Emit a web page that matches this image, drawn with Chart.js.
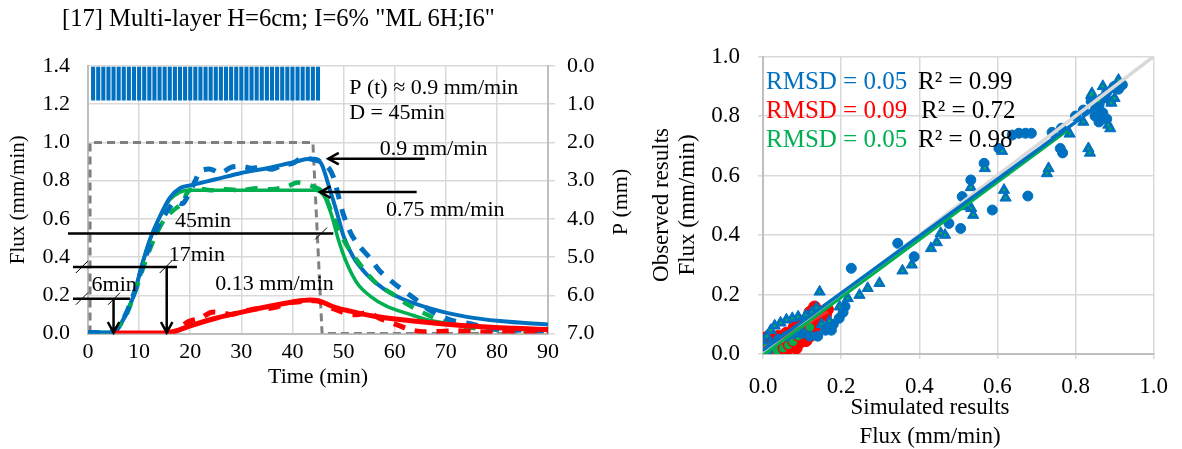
<!DOCTYPE html>
<html>
<head>
<meta charset="utf-8">
<script src="https://cdn.jsdelivr.net/npm/chart.js@4.4.1/dist/chart.umd.min.js"></script>
<style>
  html, body { margin: 0; padding: 0; background: #fff; }
  #wrap { position: relative; width: 1182px; height: 449px; overflow: hidden; }
  #left { position: absolute; left: 0; top: 0; }
  #right { position: absolute; left: 640px; top: 0; }
  #title { position: absolute; left: 62px; top: 5px; font: 24.6px/26px "Liberation Serif", serif; white-space: nowrap; color: #000; }
</style>
</head>
<body>
<div id="wrap">
  <canvas id="left" width="640" height="449"></canvas>
  <canvas id="right" width="542" height="449"></canvas>
  <div id="title">[17] Multi-layer H=6cm; I=6% "ML 6H;I6"</div>
</div>
<script>
// rainfall, one bar per minute (mm)
const rainTime = [1, 2, 3, 4, 5, 6, 7, 8, 9, 10, 11, 12, 13, 14, 15, 16, 17, 18, 19, 20, 21, 22, 23,
  24, 25, 26, 27, 28, 29, 30, 31, 32, 33, 34, 35, 36, 37, 38, 39, 40, 41, 42, 43, 44, 45];
const rainDepth = [0.9, 0.9, 0.9, 0.9, 0.9, 0.9, 0.9, 0.9, 0.9, 0.9, 0.9, 0.9, 0.9, 0.9, 0.9, 0.9,
  0.9, 0.9, 0.9, 0.9, 0.9, 0.9, 0.9, 0.9, 0.9, 0.9, 0.9, 0.9, 0.9, 0.9, 0.9, 0.9, 0.9, 0.9, 0.9,
  0.9, 0.9, 0.9, 0.9, 0.9, 0.9, 0.9, 0.9, 0.9, 0.9];

// rain input hydrograph [time, flux]
const rainInput = [[0.4, 0], [0.4, 1.0], [44, 1.0], [45.8, 0], [90, 0]];

// simulated fluxes [time (min), flux (mm/min)]
const totalSim = [[0, 0.005], [4, 0.005], [5.3, 0.012], [6.9, 0.073], [8.9, 0.196], [10.5, 0.353],
  [12.1, 0.49], [14.1, 0.615], [16, 0.71], [18, 0.76], [20, 0.775], [25, 0.807], [30, 0.84],
  [35, 0.865], [40, 0.895], [43.5, 0.915], [44.4, 0.915], [45.7, 0.886], [47.3, 0.755],
  [48.7, 0.633], [50, 0.51], [51.9, 0.40], [54.5, 0.31], [57.8, 0.235], [61, 0.187],
  [67.6, 0.126], [74.1, 0.087], [80.6, 0.065], [90, 0.047]];
const matrixSim = [[0, 0.005], [4, 0.005], [5.3, 0.012], [6.9, 0.073], [8.9, 0.196], [10.5, 0.353],
  [12.1, 0.49], [14.1, 0.612], [16, 0.70], [18, 0.74], [19.5, 0.75], [30, 0.75], [44.5, 0.75],
  [46.4, 0.71], [47.7, 0.615], [49, 0.49], [50.6, 0.37], [52.6, 0.266], [55.2, 0.196],
  [58.4, 0.143], [63, 0.10], [67.5, 0.065], [74, 0.04], [80.6, 0.026], [90, 0.017]];
const drainSim = [[5, 0.003], [15, 0.003], [17, 0.012], [20, 0.04], [25, 0.08], [31, 0.117],
  [36, 0.145], [40, 0.165], [43.4, 0.175], [45, 0.172], [48, 0.14], [51.3, 0.117], [56, 0.09],
  [61, 0.073], [70.8, 0.047], [80.6, 0.03], [90, 0.021]];

// observed fluxes [time (min), flux (mm/min)]
const totalObs = [[0, 0.005], [5, 0.01], [7, 0.08], [9, 0.21], [11, 0.38], [13, 0.52], [15, 0.62],
  [17, 0.69], [18.5, 0.68], [19.5, 0.72], [21, 0.80], [22, 0.85], [24, 0.86], [26, 0.84],
  [28, 0.87], [30, 0.875], [32, 0.865], [34, 0.87], [36, 0.86], [38, 0.88], [40, 0.89],
  [42, 0.92], [44, 0.91], [45.5, 0.90], [47, 0.87], [48, 0.82], [49, 0.72], [50, 0.62],
  [51.5, 0.52], [53, 0.46], [55, 0.40], [57, 0.33], [60, 0.26], [62, 0.22], [64, 0.18],
  [67, 0.12], [71, 0.07], [75, 0.05], [79, 0.025], [83, 0.02], [87, 0.015], [90, 0.015]];
const matrixObs = [[5, 0.01], [7, 0.07], [9, 0.2], [11, 0.36], [13, 0.5], [15, 0.6], [16.5, 0.64],
  [18.5, 0.685], [19.5, 0.74], [21, 0.76], [24, 0.75], [27, 0.755], [30, 0.75], [33, 0.76],
  [36, 0.755], [39, 0.77], [41, 0.79], [44, 0.77], [46, 0.74], [47.7, 0.63], [50, 0.49],
  [53, 0.37], [56.5, 0.26], [60, 0.2], [62, 0.16], [67, 0.09], [71, 0.05], [75, 0.03],
  [80, 0.02], [85, 0.02], [90, 0.02]];
const drainObs = [[15, 0.005], [17, 0.01], [18.5, 0.04], [19.5, 0.06], [20.5, 0.07], [22, 0.08],
  [24, 0.11], [26, 0.11], [28, 0.10], [31, 0.12], [33, 0.13], [35, 0.13], [37, 0.14],
  [39, 0.16], [41, 0.165], [43, 0.17], [45, 0.17], [47, 0.14], [49, 0.12], [51, 0.10],
  [53, 0.10], [55, 0.11], [57, 0.08], [59, 0.06], [61, 0.04], [63, 0.02], [65, 0.01],
  [68, 0.01], [72, 0.015], [76, 0.01], [80, 0.005], [84, 0.01], [88, 0.01], [90, 0.01]];

// scatter: [simulated, observed]
const blueDots = [[0.0, 0.0], [0.01, 0.01], [0.02, 0.03], [0.04, 0.05], [0.06, 0.06], [0.08, 0.07],
  [0.10, 0.07], [0.12, 0.06], [0.14, 0.06], [0.16, 0.08], [0.175, 0.08], [0.18, 0.10],
  [0.195, 0.12], [0.205, 0.14], [0.21, 0.16], [0.226, 0.288], [0.345, 0.372], [0.387, 0.327],
  [0.476, 0.439], [0.506, 0.422], [0.51, 0.529], [0.532, 0.585], [0.566, 0.641], [0.587, 0.484],
  [0.604, 0.691], [0.638, 0.736], [0.655, 0.742], [0.672, 0.742], [0.678, 0.531], [0.687, 0.742],
  [0.74, 0.745], [0.761, 0.691], [0.764, 0.759], [0.767, 0.676], [0.80, 0.80], [0.82, 0.82],
  [0.84, 0.85], [0.85, 0.80], [0.86, 0.83], [0.87, 0.86], [0.88, 0.88], [0.89, 0.85],
  [0.90, 0.90], [0.91, 0.89], [0.92, 0.905], [0.87, 0.81], [0.88, 0.79], [0.86, 0.78]];
const blueTri = [[0.005, 0.03], [0.01, 0.06], [0.02, 0.08], [0.03, 0.095], [0.045, 0.105],
  [0.06, 0.115], [0.075, 0.12], [0.09, 0.125], [0.11, 0.13], [0.125, 0.14], [0.137, 0.155],
  [0.145, 0.209], [0.15, 0.10], [0.17, 0.11], [0.196, 0.159], [0.217, 0.187], [0.247, 0.198],
  [0.268, 0.221], [0.298, 0.238], [0.357, 0.28], [0.381, 0.30], [0.43, 0.355], [0.445, 0.375],
  [0.455, 0.406], [0.466, 0.40], [0.515, 0.496], [0.532, 0.56], [0.533, 0.49], [0.538, 0.467],
  [0.568, 0.624], [0.612, 0.682], [0.617, 0.551], [0.621, 0.525], [0.727, 0.607], [0.731, 0.624],
  [0.785, 0.74], [0.82, 0.78], [0.833, 0.691], [0.837, 0.676], [0.84, 0.87], [0.842, 0.876],
  [0.86, 0.85], [0.884, 0.77], [0.889, 0.758], [0.89, 0.89], [0.892, 0.844], [0.91, 0.921],
  [0.90, 0.86], [0.87, 0.90], [0.85, 0.83]];
const redDots = [[0.005, 0.053], [0.008, 0.035], [0.012, 0.02], [0.015, 0.06], [0.025, 0.02],
  [0.04, 0.01], [0.059, 0.01], [0.07, 0.03], [0.085, 0.02], [0.095, 0.04], [0.11, 0.045],
  [0.125, 0.07], [0.133, 0.09], [0.14, 0.12], [0.145, 0.14], [0.132, 0.158], [0.12, 0.14],
  [0.10, 0.11], [0.08, 0.09], [0.06, 0.07], [0.04, 0.06], [0.02, 0.04], [0.16, 0.13],
  [0.165, 0.15], [0.12, 0.06], [0.105, 0.05]];
const greenDots = [[0.015, 0.005], [0.035, 0.01], [0.052, 0.019], [0.065, 0.03], [0.077, 0.041],
  [0.09, 0.06], [0.10, 0.075], [0.11, 0.08], [0.12, 0.09]];

// regression lines and 1:1 line
const blueTrend = [[0, 0.013], [0.88, 0.856]];
const greenTrend = [[0, -0.004], [0.78, 0.752]];
const redTrend = [[0, 0.019], [0.166, 0.142]];
const oneToOne = [[0, 0], [1, 1]];

const BLUE = '#0070C0', RED = '#FF0000', GREEN = '#00B050';
const GRID = '#D9D9D9', AXIS = '#BFBFBF';
const SERIF = '"Liberation Serif", "Times New Roman", serif';

Chart.defaults.font.family = SERIF;
Chart.defaults.color = '#000';

const xy = pairs => pairs.map(p => ({ x: p[0], y: p[1] }));

function arrow(ctx, x1, y1, x2, y2) {
  const a = Math.atan2(y2 - y1, x2 - x1), h = 12;
  ctx.beginPath();
  ctx.moveTo(x1, y1);
  ctx.lineTo(x2, y2);
  ctx.moveTo(x2 - h * Math.cos(a - 0.5), y2 - h * Math.sin(a - 0.5));
  ctx.lineTo(x2, y2);
  ctx.lineTo(x2 - h * Math.cos(a + 0.5), y2 - h * Math.sin(a + 0.5));
  ctx.stroke();
}

function slash(ctx, x, y) {
  ctx.save();
  ctx.lineWidth = 1;
  ctx.beginPath();
  ctx.moveTo(x - 6, y + 6);
  ctx.lineTo(x + 6, y - 6);
  ctx.stroke();
  ctx.restore();
}

function vText(ctx, text, x, y) {
  ctx.save();
  ctx.translate(x, y);
  ctx.rotate(-Math.PI / 2);
  ctx.textAlign = 'center';
  ctx.fillText(text, 0, 0);
  ctx.restore();
}

// labels, dimension lines and arrows on the hydrograph
const leftNotes = {
  id: 'leftNotes',
  afterDraw(chart) {
    const ctx = chart.ctx;
    const X = v => chart.scales.x.getPixelForValue(v);
    const Y = v => chart.scales.y.getPixelForValue(v);
    ctx.save();
    ctx.fillStyle = '#000';
    ctx.strokeStyle = '#000';
    ctx.font = '22px ' + SERIF;
    ctx.textBaseline = 'middle';

    ctx.fillText('P (t) ≈ 0.9 mm/min', X(51.1), Y(1.282));
    ctx.fillText('D = 45min', X(51.1), Y(1.151));
    ctx.fillText('0.9 mm/min', X(57.1), Y(0.963));
    ctx.fillText('0.75 mm/min', X(58.3), Y(0.645));
    ctx.fillText('45min', X(17), Y(0.59));
    ctx.fillText('17min', X(15.8), Y(0.41));
    ctx.fillText('6min', X(0.7), Y(0.253));
    ctx.fillText('0.13 mm/min', X(24.9), Y(0.258));

    ctx.lineWidth = 2.5;
    arrow(ctx, X(65.9), Y(0.915), X(47.0), Y(0.915));
    arrow(ctx, X(64.3), Y(0.74), X(45.4), Y(0.74));

    // 45 min dimension line
    ctx.beginPath();
    ctx.moveTo(68, Y(0.523));
    ctx.lineTo(X(48), Y(0.523));
    ctx.stroke();
    slash(ctx, X(45.6), Y(0.523));

    // 17 min dimension line and arrow
    ctx.beginPath();
    ctx.moveTo(73, Y(0.348));
    ctx.lineTo(X(17.4), Y(0.348));
    ctx.stroke();
    slash(ctx, X(-1.2), Y(0.348));
    slash(ctx, X(15.2), Y(0.348));
    arrow(ctx, X(15.4), Y(0.348), X(15.4), Y(0.005));

    // 6 min dimension line and arrow
    ctx.beginPath();
    ctx.moveTo(73, Y(0.182));
    ctx.lineTo(X(8.2), Y(0.182));
    ctx.stroke();
    slash(ctx, X(-1.2), Y(0.182));
    slash(ctx, X(5.1), Y(0.182));
    arrow(ctx, X(5.0), Y(0.182), X(5.0), Y(0.005));

    vText(ctx, 'P (mm)', 621, 202);
    ctx.restore();
  }
};

new Chart(document.getElementById('left'), {
  type: 'line',
  data: {
    datasets: [
      { data: xy(drainSim), borderColor: RED, borderWidth: 5, pointRadius: 0, cubicInterpolationMode: 'monotone' },
      { data: xy(drainObs), borderColor: RED, borderWidth: 5, borderDash: [12, 10], pointRadius: 0, tension: 0.3 },
      { data: xy(totalObs), borderColor: BLUE, borderWidth: 5, borderDash: [12, 10], pointRadius: 0, tension: 0.3 },
      { data: xy(matrixObs), borderColor: GREEN, borderWidth: 4.5, borderDash: [12, 10], pointRadius: 0, tension: 0.3 },
      { data: xy(totalSim), borderColor: BLUE, borderWidth: 4, pointRadius: 0, cubicInterpolationMode: 'monotone' },
      { data: xy(matrixSim), borderColor: GREEN, borderWidth: 3.5, pointRadius: 0, cubicInterpolationMode: 'monotone' },
      { data: xy(rainInput), borderColor: '#808080', borderWidth: 3, borderDash: [8, 5], pointRadius: 0, tension: 0 },
      {
        type: 'bar', yAxisID: 'y2',
        data: rainTime.map((t, i) => ({ x: t, y: rainDepth[i] })),
        backgroundColor: BLUE, borderWidth: 0,
        barPercentage: 0.8, categoryPercentage: 1
      }
    ]
  },
  options: {
    responsive: false,
    animation: false,
    layout: { padding: { left: 0, right: 0, top: 66, bottom: 55.5 } },
    plugins: { legend: { display: false }, tooltip: { enabled: false } },
    scales: {
      x: {
        type: 'linear', min: 0, max: 90, offset: false,
        ticks: { stepSize: 10, padding: 6, font: { size: 22 } },
        grid: { color: GRID, lineWidth: 1.5, drawTicks: false, offset: false },
        border: { color: AXIS, width: 2 },
        title: { display: true, text: 'Time (min)', font: { size: 22 }, padding: { top: 0, bottom: 3 } },
        afterFit: s => { s.height = 60; }
      },
      y: {
        min: 0, max: 1.4,
        ticks: { stepSize: 0.2, padding: 18, font: { size: 22 }, callback: v => v.toFixed(1) },
        grid: { color: GRID, lineWidth: 1.5, drawTicks: false },
        border: { color: AXIS, width: 2 },
        title: { display: true, text: 'Flux (mm/min)', font: { size: 21 }, padding: { top: 6, bottom: 0 } },
        afterFit: s => { s.width = 88; }
      },
      y2: {
        position: 'right', reverse: true, min: 0, max: 7,
        ticks: { stepSize: 1, padding: 12, font: { size: 22 }, callback: v => v.toFixed(1) },
        grid: { drawOnChartArea: false, color: GRID, lineWidth: 1.5, tickLength: 7 },
        border: { color: AXIS, width: 2 },
        afterFit: s => { s.width = 92; }
      }
    }
  },
  plugins: [leftNotes]
});

// goodness-of-fit labels and axis titles of the scatter plot
const rightNotes = {
  id: 'rightNotes',
  afterDraw(chart) {
    const ctx = chart.ctx;
    ctx.save();
    ctx.font = '25px ' + SERIF;
    ctx.textBaseline = 'middle';
    ctx.fillStyle = BLUE;
    ctx.fillText('RMSD = 0.05', 126, 82);
    ctx.fillStyle = RED;
    ctx.fillText('RMSD = 0.09', 126, 111);
    ctx.fillStyle = GREEN;
    ctx.fillText('RMSD = 0.05', 126, 140);
    ctx.fillStyle = '#000';
    ctx.fillText('R² = 0.99', 278, 82);
    ctx.fillText('R² = 0.72', 281, 111);
    ctx.fillText('R² = 0.98', 278, 140);

    ctx.font = '23px ' + SERIF;
    vText(ctx, 'Observed results', 22, 205);
    vText(ctx, 'Flux (mm/min)', 48, 205);
    ctx.textAlign = 'center';
    ctx.fillText('Simulated results', 290, 408);
    ctx.fillText('Flux (mm/min)', 290, 437);
    ctx.restore();
  }
};

new Chart(document.getElementById('right'), {
  type: 'scatter',
  data: {
    datasets: [
      { type: 'line', data: xy(blueTrend), borderColor: BLUE, borderWidth: 3.5, pointRadius: 0 },
      { type: 'line', data: xy(greenTrend), borderColor: GREEN, borderWidth: 3, pointRadius: 0 },
      { type: 'line', data: xy(redTrend), borderColor: 'rgba(255, 60, 60, 0.75)', borderWidth: 3, pointRadius: 0 },
      { type: 'line', data: xy(oneToOne), borderColor: GRID, borderWidth: 3.5, pointRadius: 0 },
      { data: xy(blueTri), pointStyle: 'circle', pointRadius: 1.3, backgroundColor: GREEN, borderWidth: 0 },
      { data: xy(blueTri), pointStyle: 'triangle', pointRadius: 6.5, backgroundColor: BLUE, borderColor: BLUE, borderWidth: 1 },
      { data: xy(blueDots), pointStyle: 'circle', pointRadius: 5, backgroundColor: BLUE, borderColor: BLUE, borderWidth: 1 },
      { data: xy(greenDots), pointStyle: 'circle', pointRadius: 5, backgroundColor: GREEN, borderColor: RED, borderWidth: 1.5 },
      { data: xy(redDots), pointStyle: 'circle', pointRadius: 6, backgroundColor: RED, borderColor: RED, borderWidth: 1 }
    ]
  },
  options: {
    responsive: false,
    animation: false,
    layout: { padding: { left: 0, right: 26, top: 56.5, bottom: 0 } },
    plugins: { legend: { display: false }, tooltip: { enabled: false } },
    scales: {
      x: {
        type: 'linear', min: 0, max: 1,
        ticks: { stepSize: 0.2, padding: 14, font: { size: 23 }, callback: v => v.toFixed(1) },
        grid: { color: GRID, lineWidth: 1.5, tickLength: 5 },
        border: { color: AXIS, width: 2 },
        afterFit: s => { s.height = 95; }
      },
      y: {
        min: 0, max: 1,
        ticks: { stepSize: 0.2, padding: 18, font: { size: 23 }, callback: v => v.toFixed(1) },
        grid: { color: GRID, lineWidth: 1.5, tickLength: 5 },
        border: { color: AXIS, width: 2 },
        afterFit: s => { s.width = 123; }
      }
    }
  },
  plugins: [rightNotes]
});
</script>
</body>
</html>
